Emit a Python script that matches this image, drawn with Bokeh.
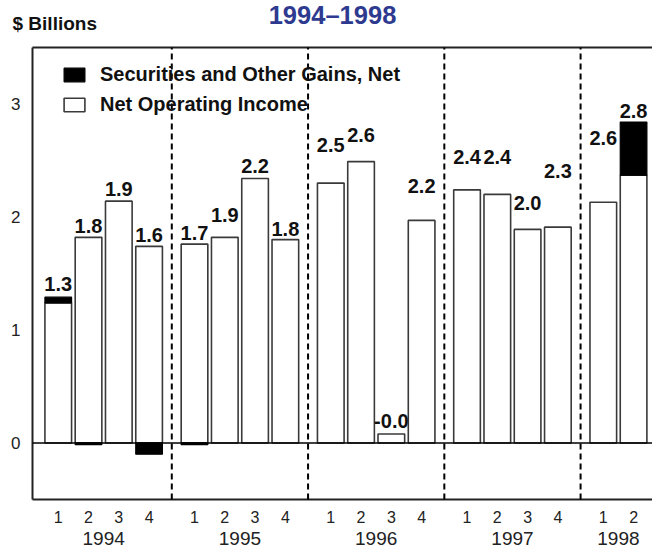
from bokeh.plotting import figure
from bokeh.models import (ColumnDataSource, FixedTicker, LinearAxis,
                          Legend, LegendItem, Range1d)
from bokeh.core.properties import value
from bokeh.embed import file_html
from bokeh.resources import INLINE

# ---------------- data ----------------
years = ["1994", "1995", "1996", "1997", "1998"]
year_of = [0, 0, 0, 0, 1, 1, 1, 1, 2, 2, 2, 2, 3, 3, 3, 3, 4, 4]
quarter_of = [1, 2, 3, 4, 1, 2, 3, 4, 1, 2, 3, 4, 1, 2, 3, 4, 1, 2]
net_operating_income = [1.24, 1.82, 2.14, 1.74, 1.76, 1.82, 2.34, 1.80,
                        2.30, 2.49, 0.08, 1.97, 2.24, 2.20, 1.89, 1.91,
                        2.13, 2.37]
securities_gains = [0.05, -0.015, 0.0, -0.10, -0.015, 0.0, 0.0, 0.0,
                    0.0, 0.0, 0.0, 0.0, 0.0, 0.0, 0.0, 0.0,
                    0.0, 0.47]
value_labels = ["1.3", "1.8", "1.9", "1.6", "1.7", "1.9", "2.2", "1.8",
                "2.5", "2.6", "-0.0", "2.2", "2.4", "2.4", "2.0", "2.3",
                "2.6", "2.8"]
label_heights = [1.41, 1.92, 2.25, 1.84, 1.86, 2.02, 2.45, 1.89,
                 2.64, 2.73, 0.19, 2.27, 2.53, 2.53, 2.12, 2.41,
                 2.70, 2.94]
y_ticks = [0, 1, 2, 3]
title_text = "1994\u20131998"
unit_text = "$ Billions"

# ---------------- layout helpers ----------------
YEAR_STEP = 9      # 4 quarters * 2 units + 1 extra unit of gap between years
Q_STEP = 2
pos = [YEAR_STEP * y + Q_STEP * (q - 1) for y, q in zip(year_of, quarter_of)]

gain_bottom = [n if g > 0 else 0.0 for n, g in zip(net_operating_income, securities_gains)]
gain_top = [n + g if g > 0 else g for n, g in zip(net_operating_income, securities_gains)]
gx = [x for x, g in zip(pos, securities_gains) if g != 0]
gb = [b for b, g in zip(gain_bottom, securities_gains) if g != 0]
gt = [t for t, g in zip(gain_top, securities_gains) if g != 0]

noi_src = ColumnDataSource(dict(x=pos, top=net_operating_income))
gain_src = ColumnDataSource(dict(x=gx, bottom=gb, top=gt))
lab_src = ColumnDataSource(dict(x=pos, y=label_heights, text=value_labels))

FONT = "Liberation Sans"
INK = "#222222"
# plot box (data units)
X_BOX, X_END = -1.70, 39.25
Y0, Y_TOP = -0.5, 3.5
# margins around the plot box, expressed in data units
LEFT_PAD, TOP_PAD, BOTTOM_PAD = 2.114, 0.416, 0.434

p = figure(width=652, height=548,
           x_range=Range1d(X_BOX - LEFT_PAD, X_END),
           y_range=Range1d(Y0 - BOTTOM_PAD, Y_TOP + TOP_PAD),
           output_backend="svg", toolbar_location=None,
           min_border_left=0, min_border_right=0,
           min_border_top=0, min_border_bottom=0)
p.outline_line_color = None
p.xgrid.visible = False
p.ygrid.visible = False

BAR_W = 1.76
r_noi = p.vbar(x="x", top="top", bottom=0, width=BAR_W, source=noi_src,
               fill_color="white", line_color="#3a3a3a", line_width=1.6)
r_gain = p.vbar(x="x", top="top", bottom="bottom", width=BAR_W, source=gain_src,
                fill_color="black", line_color="black", line_width=1.2)

p.text(x="x", y="y", text="text", source=lab_src,
       text_font=value(FONT), text_font_style="bold", text_font_size="20px",
       text_align="center", text_baseline="middle", text_color="#111111")

# plot box borders and zero line
p.segment(x0=[X_BOX, X_BOX, X_BOX], y0=[Y_TOP, Y0, Y0],
          x1=[X_END, X_END, X_BOX], y1=[Y_TOP, Y0, Y_TOP],
          line_color=INK, line_width=2)
p.segment(x0=[X_BOX], y0=[0], x1=[X_END], y1=[0], line_color="black", line_width=1.5)

# year separators (dashed)
seps = [YEAR_STEP * i - 1.5 for i in range(1, len(years))]
p.segment(x0=seps, y0=[Y0] * len(seps), x1=seps, y1=[Y_TOP] * len(seps),
          line_color="black", line_width=2, line_dash="6 4")

# titles
p.text(x=[(X_BOX + X_END) / 2], y=[Y_TOP], text=[title_text], x_offset=-10, y_offset=-33,
       text_font=value(FONT), text_font_style="bold", text_font_size="25.5px",
       text_color="#2D3A8F", text_align="center", text_baseline="middle")
p.text(x=[X_BOX], y=[Y_TOP], text=[unit_text], x_offset=-20, y_offset=-24,
       text_font=value(FONT), text_font_style="bold", text_font_size="19px",
       text_color="#111111", text_align="left", text_baseline="middle")

# left axis (labels only), pinned to the plot box edge
ya = p.yaxis[0]
ya.fixed_location = X_BOX
ya.ticker = FixedTicker(ticks=y_ticks)
ya.major_tick_out = 0
ya.major_tick_in = 0
ya.minor_tick_out = 0
ya.minor_tick_in = 0
ya.major_label_standoff = 12
ya.major_label_text_font = FONT
ya.major_label_text_font_size = "17px"
ya.major_label_text_color = INK
ya.axis_line_color = None

# quarter axis, pinned to the plot box bottom
xa = p.xaxis[0]
xa.fixed_location = Y0
xa.ticker = FixedTicker(ticks=pos)
xa.major_label_overrides = {x: str(q) for x, q in zip(pos, quarter_of)}
xa.major_tick_out = 0
xa.major_tick_in = 0
xa.minor_tick_out = 0
xa.minor_tick_in = 0
xa.major_label_standoff = 12
xa.major_label_text_font = FONT
xa.major_label_text_font_size = "16px"
xa.major_label_text_color = INK
xa.axis_line_color = None

# year axis
year_centers = []
for i in range(len(years)):
    ps = [x for x, y in zip(pos, year_of) if y == i]
    year_centers.append((min(ps) + max(ps)) // 2)
ya2 = LinearAxis(ticker=FixedTicker(ticks=year_centers), fixed_location=Y0,
                 major_label_overrides={c: y for c, y in zip(year_centers, years)},
                 axis_line_color=None, major_tick_out=0, major_tick_in=0,
                 minor_tick_out=0, minor_tick_in=0, major_label_standoff=33,
                 major_label_text_font=FONT, major_label_text_font_size="19px",
                 major_label_text_color=INK)
p.add_layout(ya2, "below")

legend = Legend(items=[LegendItem(label="Securities and Other Gains, Net", renderers=[r_gain]),
                       LegendItem(label="Net Operating Income", renderers=[r_noi])],
                location=(61, 432), margin=0, padding=0, spacing=7,
                glyph_width=26, glyph_height=17, label_height=22, label_standoff=13,
                label_text_font=FONT, label_text_font_style="bold",
                label_text_font_size="20px", label_text_color="#111111",
                border_line_color=None, background_fill_alpha=0)
p.add_layout(legend)

open("out.html", "w").write(file_html(p, INLINE))
